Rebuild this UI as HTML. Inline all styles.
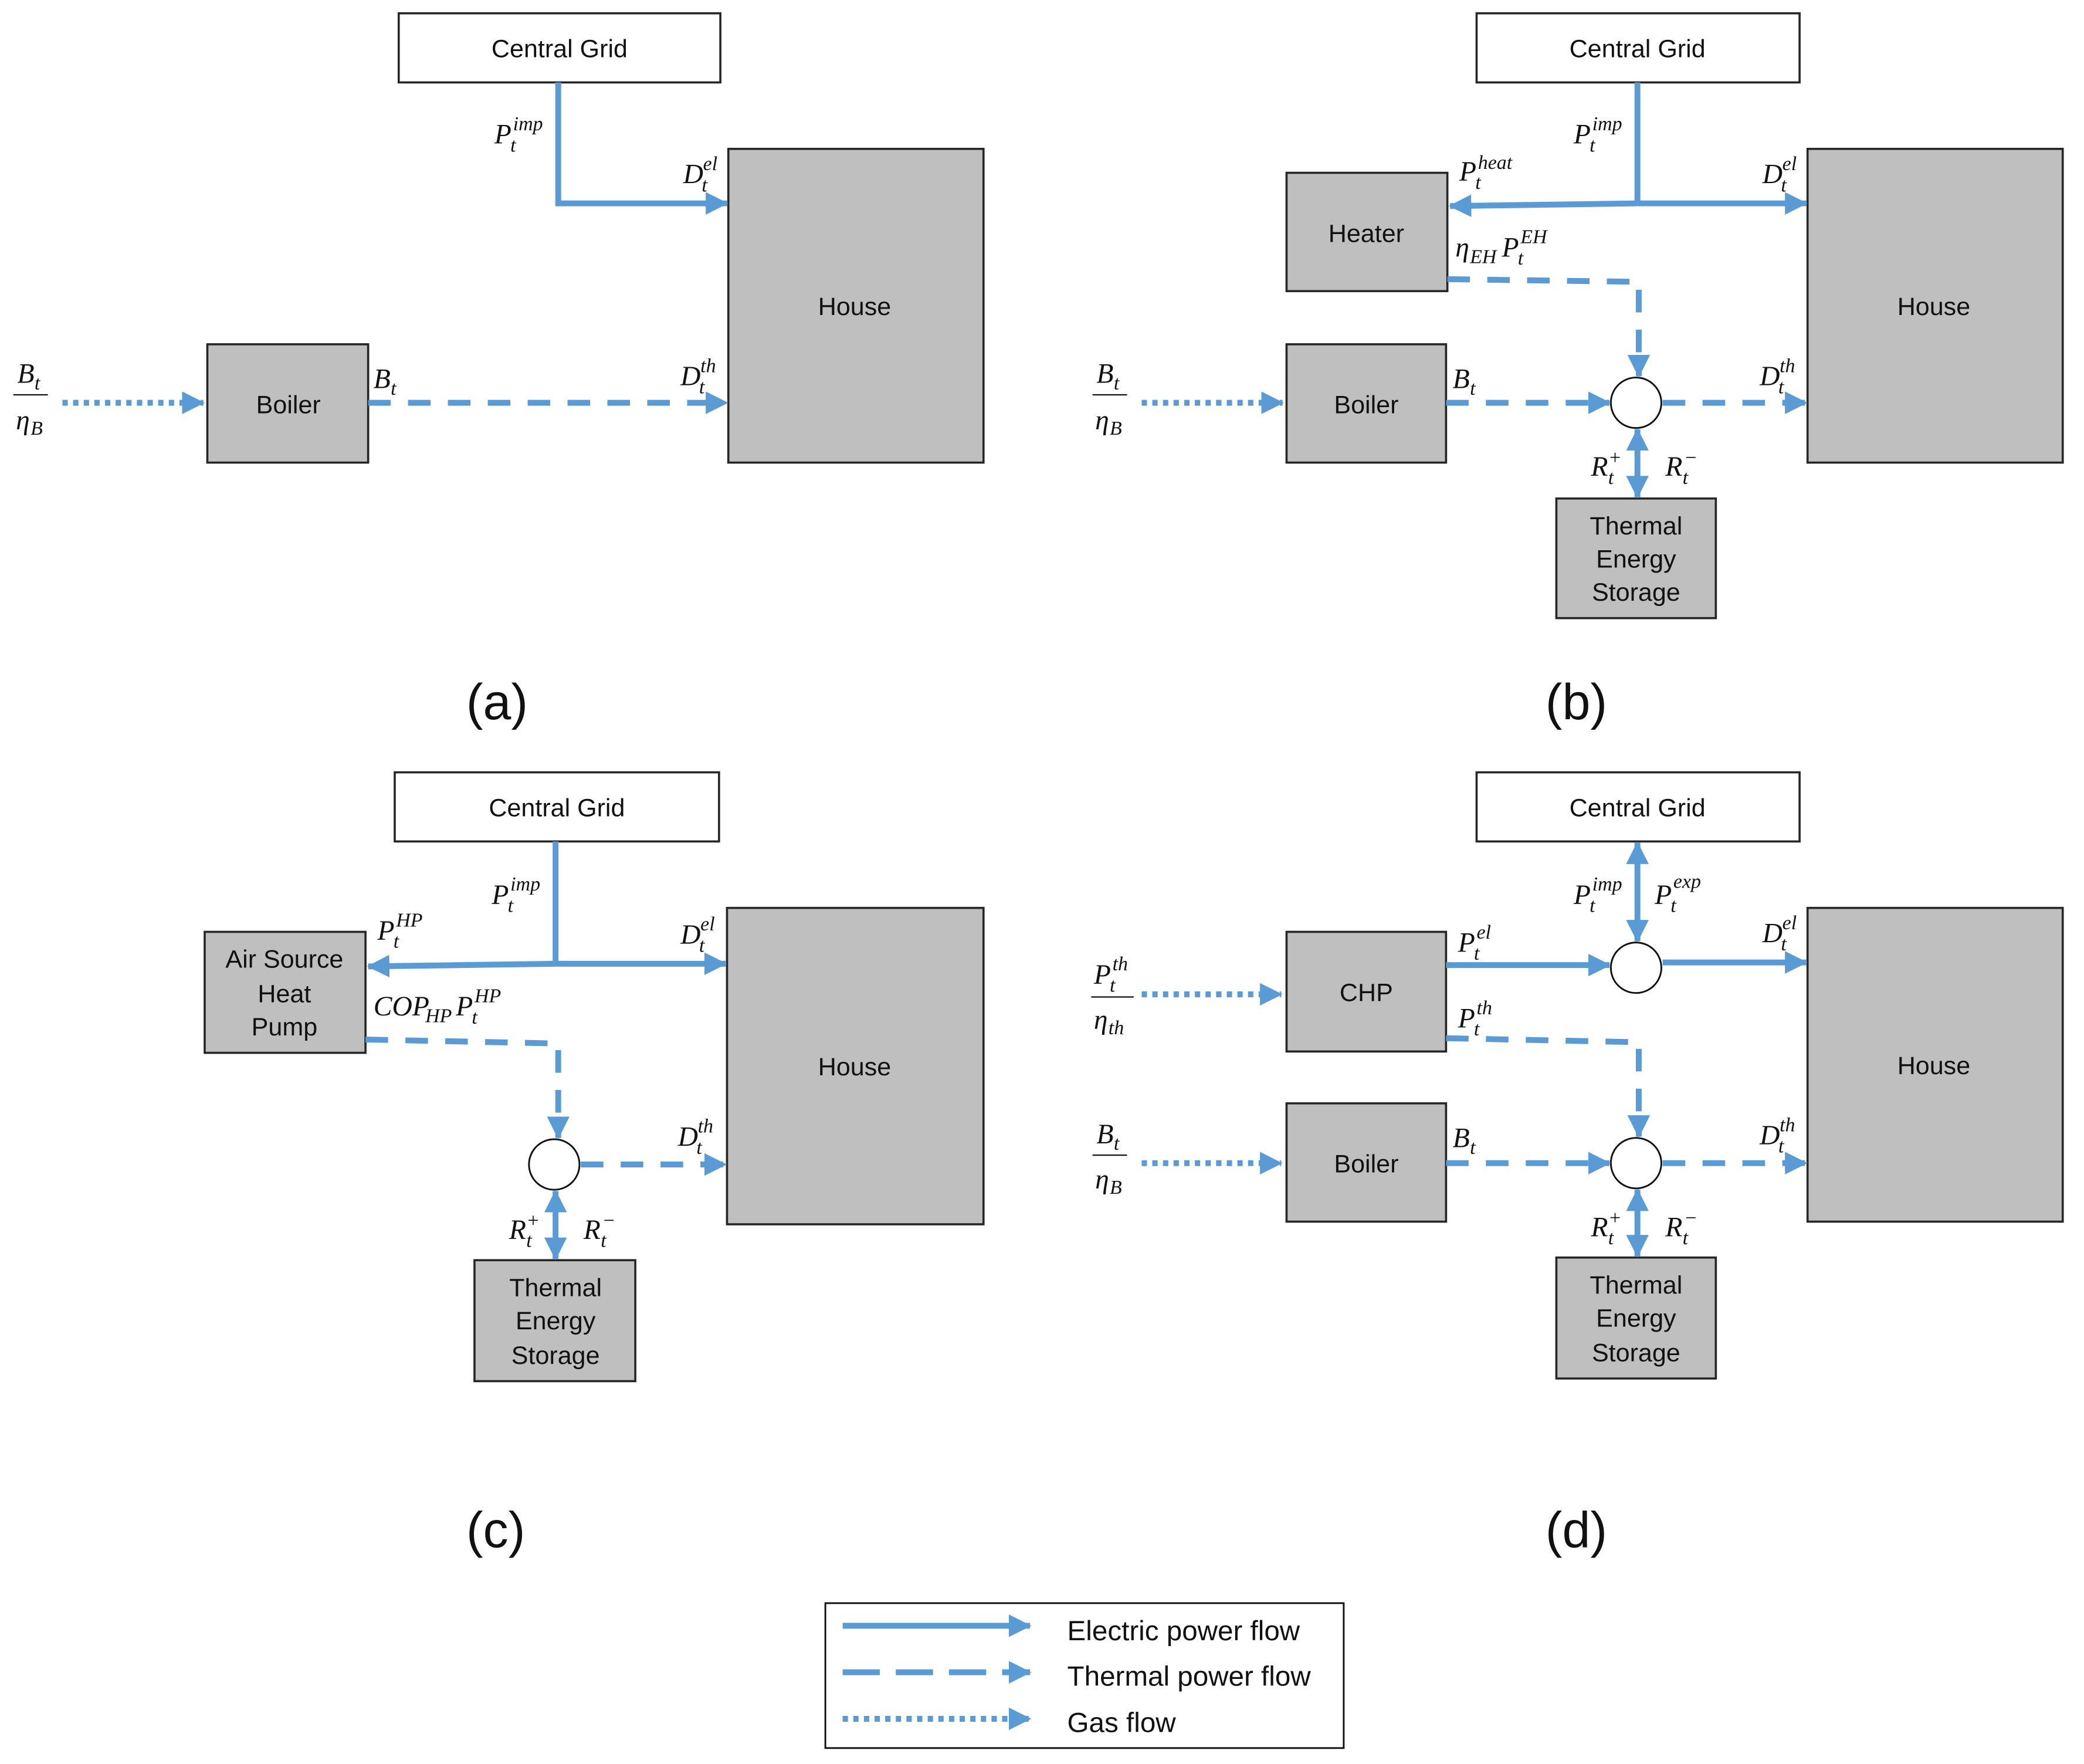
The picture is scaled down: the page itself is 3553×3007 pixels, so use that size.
<!DOCTYPE html>
<html><head><meta charset="utf-8"><style>
html,body{margin:0;padding:0;background:#fff}
svg{display:block}
.box{stroke:#262626;stroke-width:1.6}
.g{fill:#bfbfbf}.w{fill:#fff}
.t{font-family:"Liberation Sans",sans-serif;font-size:19px;fill:#111;text-anchor:middle}
.m{font-family:"Liberation Serif",serif;font-style:italic;font-size:21px;fill:#111}
.s{font-family:"Liberation Serif",serif;font-style:italic;font-size:15px;fill:#111}
.el{stroke:#5b9bd5;stroke-width:4.4;fill:none}
.th{stroke:#5b9bd5;stroke-width:4.4;fill:none;stroke-dasharray:17 13}
.gs{stroke:#5b9bd5;stroke-width:4.4;fill:none;stroke-dasharray:4 4}
.cap{font-family:"Liberation Sans",sans-serif;font-size:38px;fill:#111;text-anchor:middle}
.lg{font-family:"Liberation Sans",sans-serif;font-size:21px;fill:#111}
</style></head><body>
<svg width="3553" height="3007" viewBox="0 0 1568 1327" preserveAspectRatio="none" xmlns="http://www.w3.org/2000/svg">
<defs>
<marker id="a" markerUnits="userSpaceOnUse" markerWidth="17" markerHeight="17" refX="16" refY="8.5" orient="auto"><path d="M0,0 L17,8.5 L0,17 Z" fill="#5b9bd5"/></marker>
<marker id="b" markerUnits="userSpaceOnUse" markerWidth="17" markerHeight="17" refX="1" refY="8.5" orient="auto"><path d="M17,0 L0,8.5 L17,17 Z" fill="#5b9bd5"/></marker>
</defs>

<!-- (a) -->
<rect class="box w" x="300" y="10" width="242" height="52"/><text class="t" x="421" y="43">Central Grid</text>
<rect class="box g" x="548" y="112" width="192" height="236"/><text class="t" x="643" y="237">House</text>
<rect class="box g" x="156" y="259" width="121" height="89"/><text class="t" x="217" y="311">Boiler</text>
<path class="el" d="M420,62 V153 H547" marker-end="url(#a)"/>
<path class="th" d="M277,303 H547" marker-end="url(#a)"/>
<path class="gs" d="M47,303 H153" marker-end="url(#a)"/>
<text class="m" x="372" y="108">P</text><text class="s" x="384" y="114">t</text><text class="s" x="386" y="98">imp</text>
<text class="m" x="514" y="138">D</text><text class="s" x="528" y="144">t</text><text class="s" x="529" y="128">el</text>
<text class="m" x="281" y="292">B</text><text class="s" x="294" y="297">t</text>
<text class="m" x="512" y="290">D</text><text class="s" x="526" y="296">t</text><text class="s" x="527" y="280">th</text>
<text class="m" x="13" y="288">B</text><text class="s" x="26" y="293">t</text><line x1="10" y1="297" x2="36" y2="297" stroke="#111" stroke-width="1"/><text class="m" x="12" y="323">η</text><text class="s" x="23" y="327">B</text>

<!-- (b) -->
<rect class="box w" x="1111" y="10" width="243" height="52"/><text class="t" x="1232" y="43">Central Grid</text>
<rect class="box g" x="1360" y="112" width="192" height="236"/><text class="t" x="1455" y="237">House</text>
<rect class="box g" x="968" y="130" width="121" height="89"/><text class="t" x="1028" y="182">Heater</text>
<rect class="box g" x="968" y="259" width="120" height="89"/><text class="t" x="1028" y="311">Boiler</text>
<circle cx="1231" cy="303" r="19" fill="#fff" stroke="#111" stroke-width="1.3"/>
<rect class="box g" x="1171" y="375" width="120" height="90"/><text class="t" x="1231" y="402">Thermal</text><text class="t" x="1231" y="427">Energy</text><text class="t" x="1231" y="452">Storage</text>
<path class="el" d="M1232,62 V153"/>
<path class="el" d="M1232,153 L1091,155" marker-end="url(#a)"/>
<path class="el" d="M1232,153 H1359" marker-end="url(#a)"/>
<path class="th" d="M1089,210 L1233,212 V283" marker-end="url(#a)"/>
<path class="th" d="M1088,303 H1211" marker-end="url(#a)"/>
<path class="th" d="M1251,303 H1359" marker-end="url(#a)"/>
<path class="el" d="M1232,323 V374" marker-start="url(#b)" marker-end="url(#a)"/>
<path class="gs" d="M859,303 H965" marker-end="url(#a)"/>
<text class="m" x="1184" y="108">P</text><text class="s" x="1196" y="114">t</text><text class="s" x="1198" y="98">imp</text>
<text class="m" x="1098" y="136">P</text><text class="s" x="1110" y="142">t</text><text class="s" x="1112" y="127">heat</text>
<text class="m" x="1095" y="193">η</text><text class="s" x="1106" y="198">EH</text><text class="m" x="1130" y="193">P</text><text class="s" x="1142" y="199">t</text><text class="s" x="1144" y="183">EH</text>
<text class="m" x="1093" y="292">B</text><text class="s" x="1106" y="297">t</text>
<text class="m" x="1324" y="290">D</text><text class="s" x="1338" y="296">t</text><text class="s" x="1339" y="280">th</text>
<text class="m" x="1326" y="138">D</text><text class="s" x="1340" y="144">t</text><text class="s" x="1341" y="128">el</text>
<text class="m" x="1197" y="358">R</text><text class="s" x="1210" y="364">t</text><text class="s" x="1210" y="349">+</text>
<text class="m" x="1253" y="358">R</text><text class="s" x="1266" y="364">t</text><text class="s" x="1267" y="349">−</text>
<text class="m" x="825" y="288">B</text><text class="s" x="838" y="293">t</text><line x1="822" y1="297" x2="848" y2="297" stroke="#111" stroke-width="1"/><text class="m" x="824" y="323">η</text><text class="s" x="835" y="327">B</text>

<!-- (c) -->
<rect class="box w" x="297" y="581" width="244" height="52"/><text class="t" x="419" y="614">Central Grid</text>
<rect class="box g" x="547" y="683" width="193" height="238"/><text class="t" x="643" y="809">House</text>
<rect class="box g" x="154" y="701" width="121" height="91"/><text class="t" x="214" y="728">Air Source</text><text class="t" x="214" y="754">Heat</text><text class="t" x="214" y="779">Pump</text>
<circle cx="417" cy="876" r="19" fill="#fff" stroke="#111" stroke-width="1.3"/>
<rect class="box g" x="357" y="948" width="121" height="91"/><text class="t" x="418" y="975">Thermal</text><text class="t" x="418" y="1000">Energy</text><text class="t" x="418" y="1026">Storage</text>
<path class="el" d="M418,633 V725"/>
<path class="el" d="M418,725 L277,727" marker-end="url(#a)"/>
<path class="el" d="M418,725 H546" marker-end="url(#a)"/>
<path class="th" d="M275,782 L420,785 V856" marker-end="url(#a)"/>
<path class="th" d="M437,876 H546" marker-end="url(#a)"/>
<path class="el" d="M418,896 V947" marker-start="url(#b)" marker-end="url(#a)"/>
<text class="m" x="370" y="680">P</text><text class="s" x="382" y="686">t</text><text class="s" x="384" y="670">imp</text>
<text class="m" x="284" y="707">P</text><text class="s" x="296" y="713">t</text><text class="s" x="298" y="697">HP</text>
<text class="m" x="281" y="764">COP</text><text class="s" x="320" y="769">HP</text><text class="m" x="343" y="764">P</text><text class="s" x="355" y="770">t</text><text class="s" x="357" y="754">HP</text>
<text class="m" x="512" y="710">D</text><text class="s" x="526" y="716">t</text><text class="s" x="527" y="700">el</text>
<text class="m" x="510" y="862">D</text><text class="s" x="524" y="868">t</text><text class="s" x="525" y="852">th</text>
<text class="m" x="383" y="932">R</text><text class="s" x="396" y="938">t</text><text class="s" x="396" y="923">+</text>
<text class="m" x="439" y="932">R</text><text class="s" x="452" y="938">t</text><text class="s" x="453" y="923">−</text>

<!-- (d) -->
<rect class="box w" x="1111" y="581" width="243" height="52"/><text class="t" x="1232" y="614">Central Grid</text>
<rect class="box g" x="1360" y="683" width="192" height="236"/><text class="t" x="1455" y="808">House</text>
<rect class="box g" x="968" y="701" width="120" height="90"/><text class="t" x="1028" y="753">CHP</text>
<rect class="box g" x="968" y="830" width="120" height="89"/><text class="t" x="1028" y="882">Boiler</text>
<circle cx="1231" cy="728" r="19" fill="#fff" stroke="#111" stroke-width="1.3"/>
<circle cx="1231" cy="875" r="19" fill="#fff" stroke="#111" stroke-width="1.3"/>
<rect class="box g" x="1171" y="946" width="120" height="91"/><text class="t" x="1231" y="973">Thermal</text><text class="t" x="1231" y="998">Energy</text><text class="t" x="1231" y="1024">Storage</text>
<path class="el" d="M1232,634 V708" marker-start="url(#b)" marker-end="url(#a)"/>
<path class="el" d="M1088,726 H1211" marker-end="url(#a)"/>
<path class="el" d="M1251,724 H1359" marker-end="url(#a)"/>
<path class="th" d="M1088,781 L1233,784 V855" marker-end="url(#a)"/>
<path class="th" d="M1088,875 H1211" marker-end="url(#a)"/>
<path class="th" d="M1251,875 H1359" marker-end="url(#a)"/>
<path class="el" d="M1232,895 V945" marker-start="url(#b)" marker-end="url(#a)"/>
<path class="gs" d="M859,748 H964" marker-end="url(#a)"/>
<path class="gs" d="M859,875 H964" marker-end="url(#a)"/>
<text class="m" x="1184" y="680">P</text><text class="s" x="1196" y="686">t</text><text class="s" x="1198" y="670">imp</text>
<text class="m" x="1245" y="680">P</text><text class="s" x="1257" y="686">t</text><text class="s" x="1259" y="668">exp</text>
<text class="m" x="1097" y="716">P</text><text class="s" x="1109" y="722">t</text><text class="s" x="1111" y="706">el</text>
<text class="m" x="1097" y="773">P</text><text class="s" x="1109" y="779">t</text><text class="s" x="1111" y="763">th</text>
<text class="m" x="1326" y="709">D</text><text class="s" x="1340" y="715">t</text><text class="s" x="1341" y="699">el</text>
<text class="m" x="1324" y="861">D</text><text class="s" x="1338" y="867">t</text><text class="s" x="1339" y="851">th</text>
<text class="m" x="1093" y="863">B</text><text class="s" x="1106" y="868">t</text>
<text class="m" x="1197" y="930">R</text><text class="s" x="1210" y="936">t</text><text class="s" x="1210" y="921">+</text>
<text class="m" x="1253" y="930">R</text><text class="s" x="1266" y="936">t</text><text class="s" x="1267" y="921">−</text>
<text class="m" x="823" y="740">P</text><text class="s" x="835" y="746">t</text><text class="s" x="837" y="730">th</text><line x1="821" y1="750" x2="853" y2="750" stroke="#111" stroke-width="1"/><text class="m" x="823" y="774">η</text><text class="s" x="834" y="778">th</text>
<text class="m" x="825" y="860">B</text><text class="s" x="838" y="865">t</text><line x1="822" y1="869" x2="848" y2="869" stroke="#111" stroke-width="1"/><text class="m" x="824" y="894">η</text><text class="s" x="835" y="898">B</text>

<text class="cap" x="374" y="541">(a)</text>
<text class="cap" x="1186" y="541">(b)</text>
<text class="cap" x="373" y="1164">(c)</text>
<text class="cap" x="1186" y="1164">(d)</text>

<!-- legend -->
<rect x="621" y="1206" width="390" height="109" fill="#fff" stroke="#111" stroke-width="1.3"/>
<path class="el" d="M634,1223 H775" marker-end="url(#a)"/>
<path class="th" d="M634,1258 H775" marker-end="url(#a)" style="stroke-dasharray:28 12"/>
<path class="gs" d="M634,1293 H775" marker-end="url(#a)"/>
<text class="lg" x="803" y="1234">Electric power flow</text>
<text class="lg" x="803" y="1268">Thermal power flow</text>
<text class="lg" x="803" y="1303">Gas flow</text>
</svg>
</body></html>
